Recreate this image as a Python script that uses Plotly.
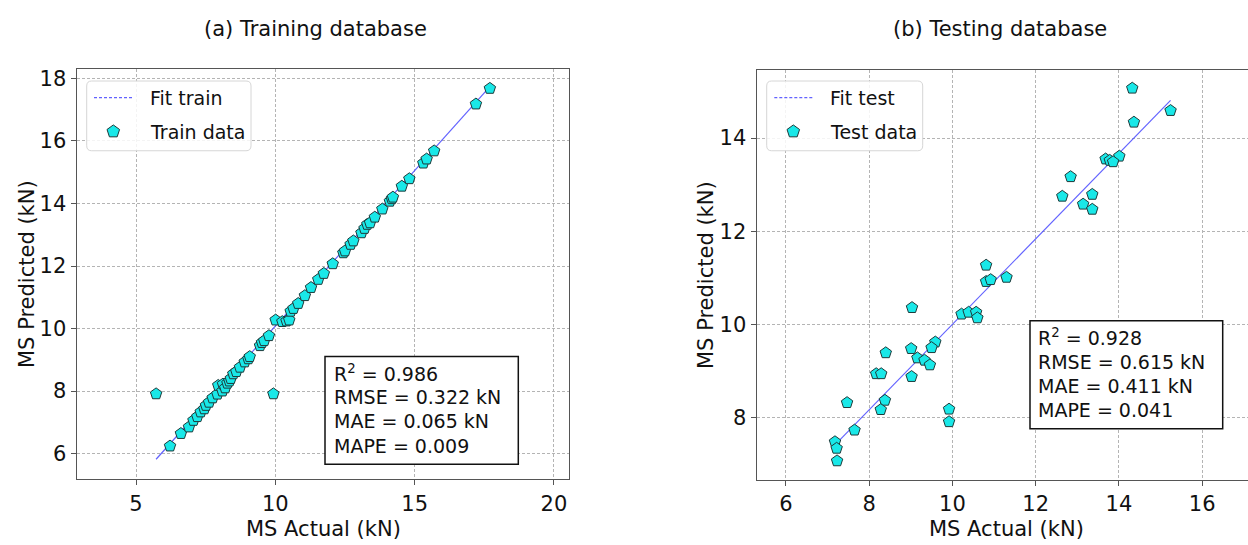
import math
import plotly.graph_objects as go

W, H = 1248, 545
FONT = "DejaVu Sans"

# ---- training set: actual vs predicted (kN)
train_actual = [5.72, 9.93, 6.22, 6.61, 6.90, 7.06, 7.20, 7.32, 7.45, 7.51, 7.62, 7.75, 7.92, 7.95,
                8.10, 8.12, 8.20, 8.28, 8.35, 8.40, 8.49, 8.60, 8.73, 8.90, 9.03, 9.08, 9.45, 9.52,
                9.60, 9.77, 10.01, 10.25, 10.40, 10.50, 10.55, 10.65, 10.82, 11.06, 11.28, 11.54,
                11.74, 12.06, 12.44, 12.50, 12.70, 12.80, 13.09, 13.20, 13.30, 13.40, 13.57, 13.84,
                14.11, 14.18, 14.22, 14.54, 14.81, 15.31, 15.43, 15.70, 17.20, 17.70]
train_pred = [7.91, 7.91, 6.24, 6.64, 6.85, 7.06, 7.18, 7.33, 7.43, 7.54, 7.64, 7.78, 7.90, 8.18,
              8.00, 8.22, 8.10, 8.25, 8.32, 8.40, 8.55, 8.62, 8.76, 8.93, 9.03, 9.10, 9.45, 9.55,
              9.61, 9.77, 10.27, 10.22, 10.24, 10.27, 10.55, 10.64, 10.80, 11.05, 11.31, 11.57,
              11.76, 12.07, 12.42, 12.48, 12.69, 12.80, 13.06, 13.20, 13.33, 13.38, 13.56, 13.82,
              14.07, 14.15, 14.20, 14.55, 14.79, 15.29, 15.42, 15.68, 17.18, 17.68]
fit_train_x = [5.72, 17.70]
fit_train_y = [5.82, 17.74]

# ---- testing set: actual vs predicted (kN)
test_actual = [14.32, 15.24, 14.36, 14.01, 13.68, 13.78, 13.86, 12.84, 12.64, 13.36, 13.14, 13.36,
               10.81, 10.81, 10.92, 11.30, 9.03, 10.22, 10.39, 10.57, 10.60, 9.59, 9.50, 9.01,
               8.40, 9.16, 9.33, 9.46, 8.17, 8.29, 9.02, 7.47, 8.38, 8.28, 9.92, 9.92, 7.65,
               7.18, 7.22, 7.23]
test_pred = [15.07, 14.59, 14.34, 13.61, 13.55, 13.52, 13.49, 13.17, 12.75, 12.79, 12.58, 12.47,
             11.27, 10.92, 10.96, 11.01, 10.36, 10.22, 10.26, 10.26, 10.14, 9.62, 9.50, 9.48,
             9.39, 9.28, 9.23, 9.13, 8.94, 8.94, 8.88, 8.32, 8.37, 8.17, 8.18, 7.91, 7.73,
             7.48, 7.34, 7.07]
fit_test_x = [7.21, 15.24]
fit_test_y = [7.44, 14.81]

panel_titles = ["(a) Training database", "(b) Testing database"]
legend_labels = [("Fit train", "Train data"), ("Fit test", "Test data")]
stats_train = ["R<sup>2</sup> = 0.986", "RMSE = 0.322 kN", "MAE = 0.065 kN", "MAPE = 0.009"]
stats_test = ["R<sup>2</sup> = 0.928", "RMSE = 0.615 kN", "MAE = 0.411 kN", "MAPE = 0.041"]

FILL = "rgb(25,232,232)"
EDGE = "#1d3a3a"
MARKER = dict(symbol="pentagon", size=12, color=FILL, line=dict(color=EDGE, width=1))
FIT_COLOR = "rgba(70,70,255,0.85)"


def px(x):
    return x / W


def py(y):
    return 1 - y / H


fig = go.Figure()

fig.add_trace(go.Scatter(x=fit_train_x, y=fit_train_y, mode="lines",
                         line=dict(color=FIT_COLOR, width=1.2), xaxis="x", yaxis="y"))
fig.add_trace(go.Scatter(x=train_actual, y=train_pred, mode="markers", marker=MARKER,
                         xaxis="x", yaxis="y"))
fig.add_trace(go.Scatter(x=fit_test_x, y=fit_test_y, mode="lines",
                         line=dict(color=FIT_COLOR, width=1.2), xaxis="x2", yaxis="y2"))
fig.add_trace(go.Scatter(x=test_actual, y=test_pred, mode="markers", marker=MARKER,
                         xaxis="x2", yaxis="y2"))

axis_common = dict(
    showgrid=True, gridcolor="#b4b4b4", gridwidth=1, griddash="3px,2px",
    zeroline=False, showline=True, linecolor="#555555", linewidth=1.4,
    ticks="outside", ticklen=5, tickwidth=1, tickcolor="#555555",
    tickfont=dict(family=FONT, size=21, color="#111111"),
)

fig.update_layout(
    width=W, height=H, margin=dict(l=0, r=0, t=0, b=0),
    paper_bgcolor="white", plot_bgcolor="white", showlegend=False,
    xaxis=dict(domain=[px(76.7), px(569)], range=[2.87, 20.54],
               tickvals=[5, 10, 15, 20], mirror=True, anchor="y", **axis_common),
    yaxis=dict(domain=[py(479), py(67.3)], range=[5.18, 18.30],
               tickvals=[6, 8, 10, 12, 14, 16, 18], mirror=True, anchor="x", **axis_common),
    xaxis2=dict(domain=[px(756.7), 1.0], range=[5.30, 17.10],
                tickvals=[6, 8, 10, 12, 14, 16], mirror=True, anchor="y2", **axis_common),
    yaxis2=dict(domain=[py(479.3), py(68.3)], range=[6.67, 15.46],
                tickvals=[8, 10, 12, 14], mirror=False, anchor="x2", **axis_common),
)

shapes = []
annotations = []


def rounded_box(x0, y0, x1, y1, r=5):
    X0, X1 = px(x0), px(x1)
    Y0, Y1 = py(y0), py(y1)
    rx, ry = r / W, r / H
    path = (f"M {X0 + rx},{Y0} L {X1 - rx},{Y0} Q {X1},{Y0} {X1},{Y0 - ry} "
            f"L {X1},{Y1 + ry} Q {X1},{Y1} {X1 - rx},{Y1} L {X0 + rx},{Y1} "
            f"Q {X0},{Y1} {X0},{Y1 + ry} L {X0},{Y0 - ry} Q {X0},{Y0} {X0 + rx},{Y0} Z")
    return dict(type="path", xref="paper", yref="paper", path=path,
                line=dict(color="#d6d6d6", width=1), fillcolor="rgba(255,255,255,0.85)",
                layer="above")


def pentagon_glyph(cx, cy, r=6.6):
    pts = []
    for k in range(5):
        a = math.radians(-90 + 72 * k)
        pts.append((px(cx + r * math.cos(a)), py(cy + r * math.sin(a))))
    path = "M " + " L ".join(f"{x},{y}" for x, y in pts) + " Z"
    return dict(type="path", xref="paper", yref="paper", path=path, layer="above",
                line=dict(color=EDGE, width=1), fillcolor=FILL)


# legends
legend_boxes = [(86.7, 79.3, 251, 149.3, 94, 133, 113.3, 148.3),
                (766.7, 79.3, 922.7, 149.3, 774.3, 813.3, 793.3, 828.3)]
for (bx0, by0, bx1, by1, lx0, lx1, mx, tx), labels in zip(legend_boxes, legend_labels):
    shapes.append(rounded_box(bx0, by0, bx1, by1))
    shapes.append(dict(type="line", xref="paper", yref="paper",
                       x0=px(lx0), x1=px(lx1), y0=py(96), y1=py(96), layer="above",
                       line=dict(color=FIT_COLOR, width=1.2, dash="3px,2px")))
    shapes.append(pentagon_glyph(mx, 130))
    for txt, yy in zip(labels, [96, 130]):
        annotations.append(dict(text=txt, xref="paper", yref="paper", x=px(tx), y=py(yy),
                                xanchor="left", yanchor="middle", showarrow=False,
                                font=dict(family=FONT, size=19, color="#111111")))

# statistics boxes
stat_boxes = [((325, 355.7, 518.3, 464), 331.7, [372, 396.7, 421, 445.7], stats_train),
              ((1030, 320, 1222.7, 428.3), 1036, [336, 361, 385.7, 410], stats_test)]
for (sx0, sy0, sx1, sy1), tx, ys, lines in stat_boxes:
    shapes.append(dict(type="rect", xref="paper", yref="paper",
                       x0=px(sx0), x1=px(sx1), y0=py(sy0), y1=py(sy1), layer="above",
                       line=dict(color="#111111", width=1.5), fillcolor="white"))
    for txt, yy in zip(lines, ys):
        annotations.append(dict(text=txt, xref="paper", yref="paper", x=px(tx), y=py(yy),
                                xanchor="left", yanchor="middle", showarrow=False,
                                font=dict(family=FONT, size=19, color="#111111")))

# panel titles and axis labels
for txt, cx in zip(panel_titles, [315, 1000]):
    annotations.append(dict(text=txt, xref="paper", yref="paper", x=px(cx), y=py(27),
                            xanchor="center", yanchor="middle", showarrow=False,
                            font=dict(family=FONT, size=21, color="#111111")))
for cx in [323, 1006]:
    annotations.append(dict(text="MS Actual (kN)", xref="paper", yref="paper", x=px(cx),
                            y=py(529), xanchor="center", yanchor="middle", showarrow=False,
                            font=dict(family=FONT, size=21, color="#111111")))
for cx, cy in [(27, 273), (706, 274)]:
    annotations.append(dict(text="MS Predicted (kN)", xref="paper", yref="paper", x=px(cx),
                            y=py(cy), xanchor="center", yanchor="middle", showarrow=False,
                            textangle=-90, font=dict(family=FONT, size=21, color="#111111")))

fig.update_layout(shapes=shapes, annotations=annotations)
fig.write_html("out.html")
